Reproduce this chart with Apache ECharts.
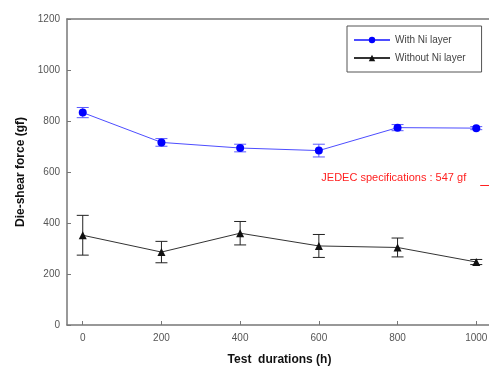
<!DOCTYPE html>
<html>
<head>
<meta charset="utf-8">
<script src="https://cdn.jsdelivr.net/npm/echarts@6/dist/echarts.min.js"></script>
<style>
  html, body { margin: 0; padding: 0; background: #fff; }
  #chart { width: 489px; height: 368px; }
</style>
</head>
<body>
<div id="chart"></div>
<script>
// Test durations (h)
const durations = [0, 200, 400, 600, 800, 1000];

// Die-shear force (gf), mean and error (+/-)
const withNi = [833, 716, 694, 684, 774, 772];
const withNiErr = [20, 15, 15, 25, 12, 6];
const withoutNi = [352, 286, 360, 310, 304, 247];
const withoutNiErr = [78, 42, 46, 45, 37, 10];

// JEDEC specification level (gf)
const jedecSpec = 547;
const jedecLabel = 'JEDEC specifications : 547 gf';

const pairs = (xs, ys) => xs.map((x, i) => [x, ys[i]]);
const errRows = (xs, ys, es) => xs.map((x, i) => [x, ys[i] - es[i], ys[i] + es[i]]);

function errorBar(color) {
  return function (params, api) {
    const x = api.value(0);
    const lo = api.coord([x, api.value(1)]);
    const hi = api.coord([x, api.value(2)]);
    const cap = 6;
    const style = { stroke: color, lineWidth: 1 };
    return {
      type: 'group',
      children: [
        { type: 'line', shape: { x1: lo[0], y1: lo[1], x2: hi[0], y2: hi[1] }, style },
        { type: 'line', shape: { x1: lo[0] - cap, y1: lo[1], x2: lo[0] + cap, y2: lo[1] }, style },
        { type: 'line', shape: { x1: hi[0] - cap, y1: hi[1], x2: hi[0] + cap, y2: hi[1] }, style }
      ]
    };
  };
}

const chart = echarts.init(document.getElementById('chart'), null, { renderer: 'canvas' });

const axisGrey = '#777';
const labelGrey = '#555';
const plain = v => String(v);

chart.setOption({
  animation: false,
  backgroundColor: '#fff',
  textStyle: { fontFamily: 'Liberation Sans, Arial, sans-serif' },
  grid: { left: 67, top: 19, width: 425, height: 306, outerBoundsMode: 'none', containLabel: false },
  legend: {
    left: 347, top: 26,
    orient: 'vertical',
    padding: [9, 16, 9, 6],
    itemGap: 8,
    itemWidth: 36, itemHeight: 8,
    borderColor: '#555', borderWidth: 1,
    textStyle: { fontSize: 10, color: '#444' },
    data: ['With Ni layer', 'Without Ni layer']
  },
  xAxis: [{
    type: 'value', min: -40, max: 1040,
    position: 'bottom',
    name: 'Test  durations (h)',
    nameLocation: 'middle', nameGap: 29,
    nameTextStyle: { fontSize: 12, fontWeight: 'bold', color: '#111' },
    axisLine: { show: true, onZero: false, lineStyle: { color: axisGrey, width: 1.5 } },
    axisTick: { show: true, inside: true, length: 4, lineStyle: { color: axisGrey },
      customValues: durations },
    axisLabel: {
      fontSize: 10, color: labelGrey, margin: 8,
      customValues: durations, formatter: plain
    },
    splitLine: { show: false }
  }, {
    type: 'value', min: -40, max: 1040,
    position: 'top',
    axisLine: { show: true, onZero: false, lineStyle: { color: axisGrey, width: 1.5 } },
    axisTick: { show: false },
    axisLabel: { show: false },
    splitLine: { show: false }
  }],
  yAxis: {
    type: 'value', min: 0, max: 1200, interval: 200,
    name: 'Die-shear force (gf)',
    nameLocation: 'middle', nameGap: 38,
    nameTextStyle: { fontSize: 12, fontWeight: 'bold', color: '#111' },
    axisLine: { show: true, onZero: false, lineStyle: { color: axisGrey, width: 1.5 } },
    axisTick: { show: true, inside: true, length: 4, lineStyle: { color: axisGrey } },
    axisLabel: { fontSize: 10, color: labelGrey, margin: 7, formatter: plain },
    splitLine: { show: false }
  },
  series: [
    {
      name: 'With Ni layer err', type: 'custom',
      renderItem: errorBar('#5b5bff'),
      encode: { x: 0, y: [1, 2] },
      data: errRows(durations, withNi, withNiErr),
      z: 2
    },
    {
      name: 'Without Ni layer err', type: 'custom',
      renderItem: errorBar('#222'),
      encode: { x: 0, y: [1, 2] },
      data: errRows(durations, withoutNi, withoutNiErr),
      z: 2
    },
    {
      name: 'With Ni layer', type: 'line',
      data: pairs(durations, withNi),
      symbol: 'circle', symbolSize: 8,
      lineStyle: { color: '#4d4dff', width: 1 },
      itemStyle: { color: '#0000ff' },
      z: 3,
      markLine: {
        silent: true, symbol: 'none',
        lineStyle: { color: '#ff2020', width: 1, type: 'solid' },
        label: {
          show: true, position: 'start', distance: 14,
          color: '#ff2020', fontSize: 11,
          formatter: jedecLabel,
          offset: [0, -8]
        },
        data: [[{ coord: [1010, jedecSpec] }, { coord: [1040, jedecSpec] }]]
      }
    },
    {
      name: 'Without Ni layer', type: 'line',
      data: pairs(durations, withoutNi),
      symbol: 'triangle', symbolSize: 8,
      lineStyle: { color: '#333', width: 1 },
      itemStyle: { color: '#111' },
      z: 3
    }
  ]
});
</script>
</body>
</html>
